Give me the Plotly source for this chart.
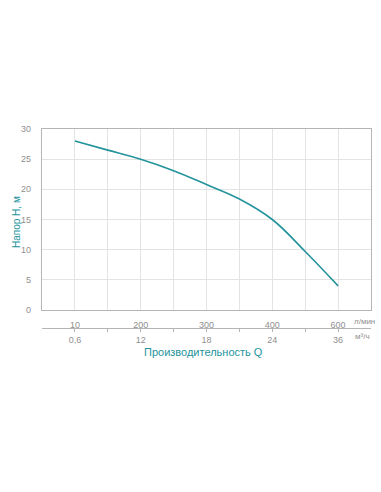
import plotly.graph_objects as go

# Data
flow_lpm_labels = ["10", "200", "300", "400", "600"]
flow_m3h_labels = ["0,6", "12", "18", "24", "36"]
label_positions = [1, 3, 5, 7, 9]
# curve read at grid positions (1 = 10 л/мин ... 9 = 600 л/мин)
curve_pos = [1, 2, 3, 4, 5, 6, 7, 8, 9]
head_m = [28.0, 26.5, 25.0, 23.1, 20.8, 18.4, 15.0, 9.7, 4.0]

teal = "#23939c"
gray_txt = "#8f8f8f"
grid = "#e3e3e3"
border = "#b5b5b5"

all_pos = list(range(1, 10))
def make_text(labels):
    d = dict(zip(label_positions, labels))
    return [d.get(p, "") for p in all_pos]

W, H = 381, 492
L, R, T, B = 42, 10, 129, 120
paper_h = H - T - B
plot_w = W - L - R
def py(ypix):
    return (H - B - ypix) / paper_h
def px(xpix):
    return (xpix - L) / plot_w

fig = go.Figure()
fig.add_trace(go.Scatter(x=curve_pos, y=head_m, mode="lines",
                         line=dict(color=teal, width=1.6, shape="spline", smoothing=1.1),
                         hoverinfo="skip", showlegend=False, cliponaxis=False))
fig.add_trace(go.Scatter(x=[0, 10], y=[None, None], xaxis="x2", yaxis="y",
                         mode="markers", showlegend=False, hoverinfo="skip"))

fig.update_layout(
    width=W, height=H,
    margin=dict(l=L, r=R, t=T, b=B),
    paper_bgcolor="white", plot_bgcolor="white",
    font=dict(family="Liberation Sans, Arial, sans-serif", size=9, color=gray_txt),
    xaxis=dict(range=[0, 10], tickvals=all_pos, ticktext=make_text(flow_lpm_labels),
               showgrid=True, gridcolor=grid, gridwidth=1, zeroline=False,
               showline=True, linecolor=border, linewidth=1.3, mirror=True,
               ticks="", ticklabelstandoff=6, tickfont=dict(size=9, color=gray_txt),
               anchor="y", fixedrange=True, automargin=False),
    xaxis2=dict(range=[0, 10], tickvals=all_pos, ticktext=make_text(flow_m3h_labels),
                overlaying="x", anchor="free", position=py(328), side="bottom",
                showgrid=False, zeroline=False, showline=True, linecolor=border, linewidth=1,
                ticks="outside", ticklen=3, tickcolor=border,
                tickfont=dict(size=9, color=gray_txt), fixedrange=True, automargin=False),
    yaxis=dict(range=[0, 30], dtick=5, domain=[py(310), 1],
               showgrid=True, gridcolor=grid, zeroline=False,
               showline=True, linecolor=border, linewidth=1.3, mirror=True,
               ticks="", ticklabelstandoff=8, tickfont=dict(size=9, color=gray_txt),
               fixedrange=True, automargin=False),
    annotations=[
        dict(text="л/мин", x=px(352), y=py(321), xref="paper", yref="paper",
             showarrow=False, xanchor="left", yanchor="middle",
             font=dict(size=8, color=gray_txt)),
        dict(text="м³/ч", x=px(353), y=py(336), xref="paper", yref="paper",
             showarrow=False, xanchor="left", yanchor="middle",
             font=dict(size=8, color=gray_txt)),
        dict(text="Производительность Q", x=px(203), y=py(352), xref="paper", yref="paper",
             showarrow=False, xanchor="center", yanchor="middle",
             font=dict(size=11, color=teal)),
        dict(text="Напор H, м", x=px(16), y=py(222), xref="paper", yref="paper",
             showarrow=False, xanchor="center", yanchor="middle", textangle=-90,
             font=dict(size=10, color=teal)),
    ],
)

fig.write_html("out.html", config={"displayModeBar": False},
               post_script="document.body.style.margin='0px';document.body.style.overflow='hidden';")
